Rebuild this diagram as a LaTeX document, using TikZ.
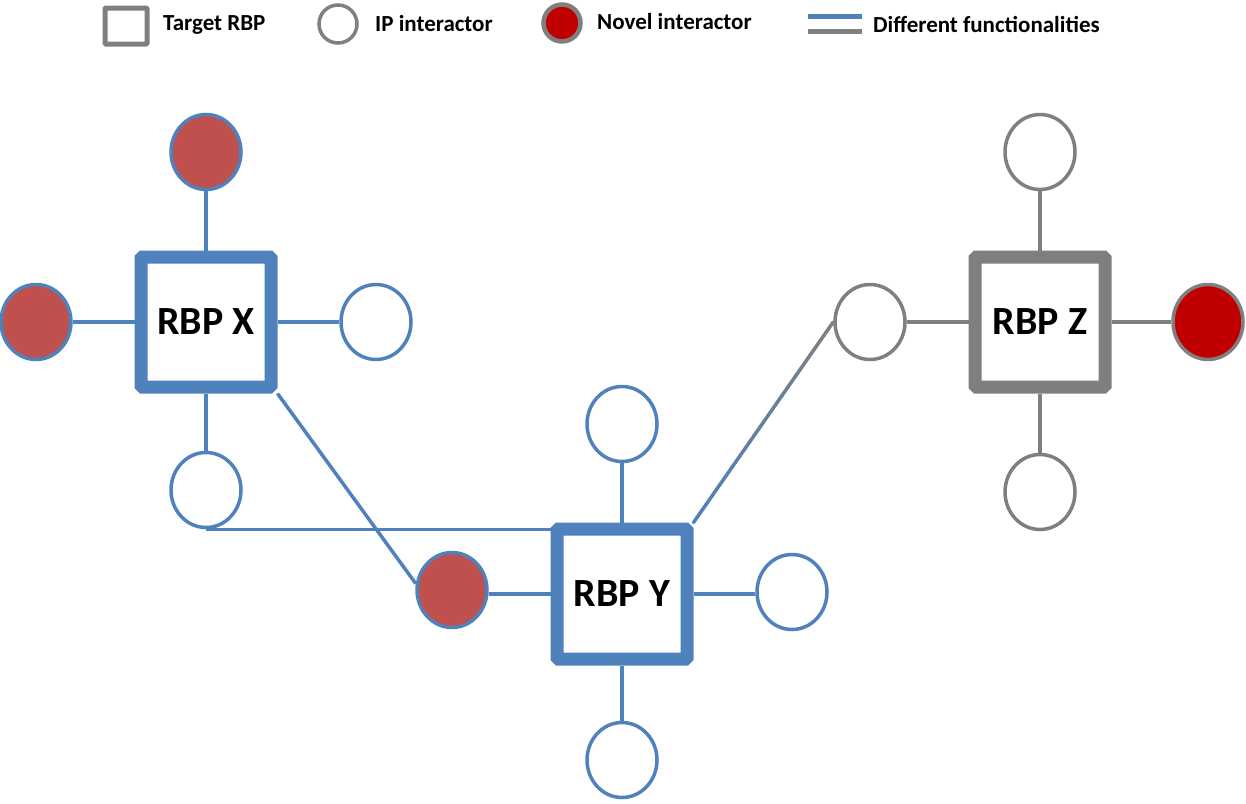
\documentclass[tikz,border=0pt]{standalone}
\usepackage{fontspec}
\setmainfont{Carlito}
\usetikzlibrary{shapes.geometric,calc}
\definecolor{bl}{HTML}{4F81BD}
\definecolor{gr}{HTML}{7F7F7F}
\definecolor{rd}{HTML}{C0504D}
\definecolor{drd}{HTML}{C00000}
\begin{document}
\begin{tikzpicture}[x=1pt,y=-1pt,
  rbp/.style={draw=#1,line width=13pt,fill=white,minimum width=130pt,minimum height=130pt,
    inner sep=0pt,rounded corners=1.5pt,font=\fontsize{40}{44}\selectfont\bfseries},
  ipc/.style={ellipse,draw=#1,line width=3.5pt,fill=white,minimum width=70pt,minimum height=75pt,inner sep=0pt},
  novc/.style={ellipse,draw=#1,line width=3.5pt,fill=rd,minimum width=70pt,minimum height=75pt,inner sep=0pt},
  edge/.style={draw=#1,line width=3.5pt},
  legtxt/.style={anchor=west,inner sep=0pt,font=\fontsize{23}{27}\selectfont\bfseries}
]
\useasboundingbox (0,0) rectangle (1246,803);

% legend
\node[draw=gr,line width=5pt,minimum width=42pt,minimum height=36pt,inner sep=0pt,rounded corners=1pt] (lsq) at (126,26) {};
\node[legtxt] (lt1) at (163,25) {Target RBP};
\node[ellipse,draw=gr,line width=3.5pt,minimum width=38pt,minimum height=38pt,inner sep=0pt] (lip) at (338,24) {};
\node[legtxt] (lt2) at (375,24) {IP interactor};
\node[ellipse,draw=gr,line width=4.5pt,fill=drd,minimum width=37pt,minimum height=37pt,inner sep=0pt] (lnv) at (562,23) {};
\node[legtxt] (lt3) at (597,22) {Novel interactor};
\coordinate (lb1) at (808,16); \coordinate (lb2) at (862,16);
\coordinate (lg1) at (808,31); \coordinate (lg2) at (862,31);
\draw[bl,line width=5pt] (lb1) -- (lb2);
\draw[gr,line width=5pt] (lg1) -- (lg2);
\node[legtxt] (lt4) at (873,24) {Different functionalities};

% connectors first (behind nodes)
\coordinate (Xc) at (206,322);
\coordinate (Yc) at (622,594);
\coordinate (Zc) at (1040,322);

% RBP X
\node[rbp=bl] (X) at (Xc) {RBP X};
\node[novc=bl] (xt) at (206,152) {};
\node[novc=bl] (xl) at (36,322) {};
\node[ipc=bl] (xr) at (376,322) {};
\node[ipc=bl] (xb) at (206,490) {};
% RBP Y
\node[rbp=bl] (Y) at (Yc) {RBP Y};
\node[ipc=bl] (yt) at (622,424) {};
\node[novc=bl] (yl) at (452,590) {};
\node[ipc=bl] (yr) at (792,592) {};
\node[ipc=bl] (yb) at (622,760) {};
% RBP Z
\node[rbp=gr] (Z) at (Zc) {RBP Z};
\node[ipc=gr] (zt) at (1040,152) {};
\node[ipc=gr] (zl) at (870,322) {};
\node[novc=gr,fill=drd] (zr) at (1208,322) {};
\node[ipc=gr] (zb) at (1040,492) {};

\draw[edge=bl] (X) -- (xt);
\draw[edge=bl] (X) -- (xl);
\draw[edge=bl] (X) -- (xr);
\draw[edge=bl] (X) -- (xb);
\draw[edge=bl] (Y) -- (yt);
\draw[edge=bl] (Y.west |- 0,594) -- (yl.east |- 0,594);
\draw[edge=bl] (Y.east |- 0,594) -- (yr.west |- 0,594);
\draw[edge=bl] (Y) -- (yb);
\draw[edge=gr] (Z) -- (zt);
\draw[edge=gr] (Z) -- (zl);
\draw[edge=gr] (Z) -- (zr);
\draw[edge=gr] (Z) -- (zb);
\draw[edge=bl] (xb.south) -- (xb.south -| Y.west);
\draw[edge=bl] (X.south east) -- (yl.170);
\foreach \i in {0,...,29}{
  \pgfmathsetmacro\p{100-\i*100/29}
  \draw[line width=3.5pt,color=bl!\p!gr,line cap=round]
    ($(Y.north east)!{\i/30}!(zl.west)$) -- ($(Y.north east)!{(\i+1)/30}!(zl.west)$);
}
\end{tikzpicture}
\end{document}
